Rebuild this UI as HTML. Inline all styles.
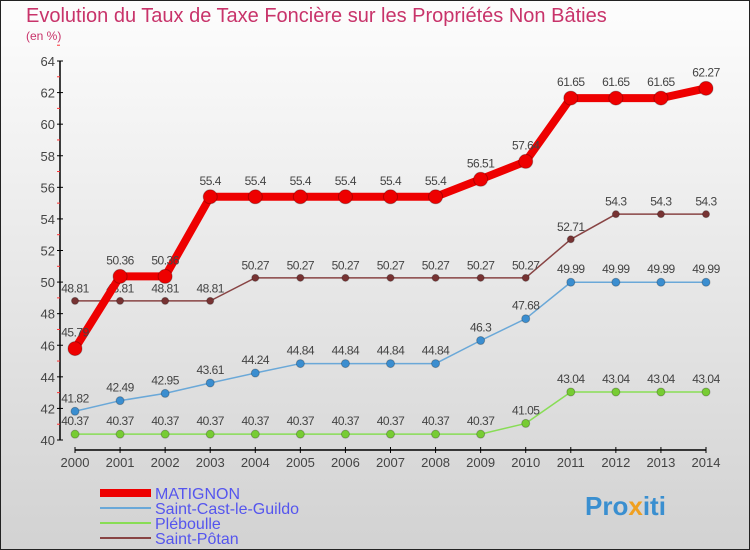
<!DOCTYPE html>
<html><head><meta charset="utf-8"><style>
body{margin:0}
#wrap{width:750px;height:550px;position:relative;overflow:hidden}
svg text{font-family:"Liberation Sans",sans-serif}
</style></head><body>
<div id="wrap">
<svg id="chart" width="750" height="550" xmlns="http://www.w3.org/2000/svg">
<defs><linearGradient id="bg" x1="0" y1="0" x2="0" y2="1"><stop offset="0" stop-color="#fdfdfd"/><stop offset="1" stop-color="#d2d2d2"/></linearGradient></defs>
<rect x="0.5" y="0.5" width="749" height="549" fill="url(#bg)" stroke="#222"/>
<text x="26" y="22" font-size="20" fill="#c8336a">Evolution du Taux de Taxe Foncière sur les Propriétés Non Bâties</text>
<text x="26" y="40" font-size="12" fill="#c8336a">(en %)</text>
<g id="axes"></g><g id="series"></g><g id="legend"></g>
<text x="585" y="515" font-size="26" font-weight="bold" fill="#3a8fd0">Pro<tspan fill="#f0a020">x</tspan>iti</text>
</svg></div>
<script>
const years=[2000,2001,2002,2003,2004,2005,2006,2007,2008,2009,2010,2011,2012,2013,2014];
const yTicks=[40,42,44,46,48,50,52,54,56,58,60,62,64];
const matignon=[45.79,50.36,50.36,55.4,55.4,55.4,55.4,55.4,55.4,56.51,57.64,61.65,61.65,61.65,62.27];
const saintCast=[41.82,42.49,42.95,43.61,44.24,44.84,44.84,44.84,44.84,46.3,47.68,49.99,49.99,49.99,49.99];
const pleboulle=[40.37,40.37,40.37,40.37,40.37,40.37,40.37,40.37,40.37,40.37,41.05,43.04,43.04,43.04,43.04];
const saintPotan=[48.81,48.81,48.81,48.81,50.27,50.27,50.27,50.27,50.27,50.27,50.27,52.71,54.3,54.3,54.3];
const seriesNames=["MATIGNON","Saint-Cast-le-Guildo","Pléboulle","Saint-Pôtan"];
const NS="http://www.w3.org/2000/svg";
const xs=i=>75+i*(706-75)/(years.length-1);
const ys=v=>440-(v-40)*(440-61)/24;
function mk(t,a,p){const e=document.createElementNS(NS,t);for(const k in a)e.setAttribute(k,a[k]);p.appendChild(e);return e;}
const ax=document.getElementById('axes');
const yl=mk('line',{x1:60,y1:61,x2:60,y2:440,stroke:'#000','stroke-width':1.5},ax);


yTicks.forEach(v=>{
 mk('line',{x1:57,y1:ys(v),x2:63,y2:ys(v),stroke:'#000'},ax);
 mk('line',{x1:57,y1:ys(v+1),x2:60,y2:ys(v+1),stroke:'#f33'},ax);
 const t=mk('text',{x:55,y:ys(v)+5,'font-size':13,fill:'#444','text-anchor':'end'},ax);t.textContent=v;
 
 
});
const xl=mk('line',{x1:75,y1:450,x2:706,y2:450,stroke:'#000','stroke-width':1.5},ax);


years.forEach((y,i)=>{
 mk('line',{x1:xs(i),y1:447,x2:xs(i),y2:453,stroke:'#000'},ax);
 const t=mk('text',{x:xs(i),y:467,'font-size':13,fill:'#444','text-anchor':'middle'},ax);t.textContent=y;
 
 
});
const sg=document.getElementById('series');
function draw(data,color,w,r,name,dot){
 const g=mk('g',{},sg);
 
 
 mk('polyline',{points:data.map((v,i)=>xs(i)+','+ys(v)).join(' '),fill:'none',stroke:color,'stroke-width':w,'stroke-linejoin':'round'},g);
 data.forEach((v,i)=>{
  const c=mk('circle',{cx:xs(i),cy:ys(v),r:r,fill:dot,stroke:'rgba(0,0,0,0.25)'},g);
  
  
  const t=mk('text',{x:xs(i),y:ys(v)-r-5,'font-size':12,fill:'#444','text-anchor':'middle','letter-spacing':'-0.5'},g);t.textContent=v;
  
  
 });
}
draw(pleboulle,'#88dd55',1.5,4,'pleboulle-series','#77cc33');
draw(saintCast,'#6aa8d8',1.5,4,'saint-cast-series','#3b8ed0');
draw(saintPotan,'#884444',1.5,3.5,'saint-potan-series','#773333');
draw(matignon,'#ee0000',8,7,'matignon-series','#ee0000');
const lg=document.getElementById('legend');
const lc=['#ee0000','#6aa8d8','#88dd55','#884444'],lw=[8,2,2,2];
seriesNames.forEach((n,i)=>{
 const g=mk('g',{},lg);
 
 
 const y=493+i*15;
 mk('line',{x1:100,y1:y,x2:151,y2:y,stroke:lc[i],'stroke-width':lw[i]},g);
 const t=mk('text',{x:155,y:y+6,'font-size':16,fill:'#5555ee'},g);t.textContent=n;
});
</script>
</body></html>
